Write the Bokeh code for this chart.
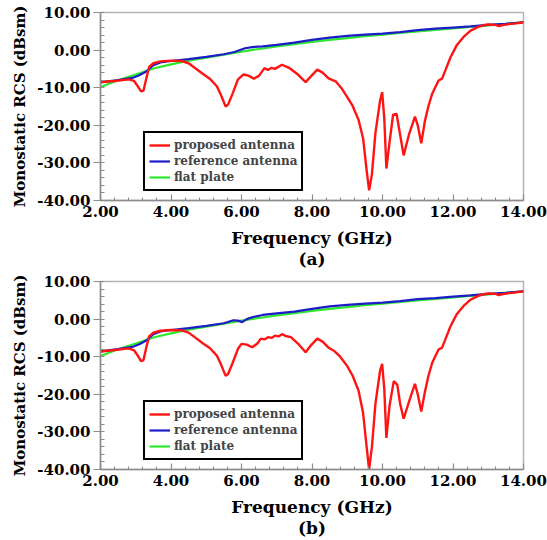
from bokeh.plotting import figure
from bokeh.layouts import column
from bokeh.models import (Legend, LegendItem, Title, SingleIntervalTicker,
                          NumeralTickFormatter, Range1d)
from bokeh.embed import file_html
from bokeh.resources import INLINE

# ---------------- data ----------------
freq_red_a = [2.0, 2.4, 2.8, 2.95, 3.05, 3.15, 3.22, 3.3, 3.38, 3.5, 3.7, 4.0, 4.3, 4.5, 4.7,
              4.9, 5.1, 5.3, 5.42, 5.55, 5.62, 5.75, 5.9, 6.05, 6.2, 6.35, 6.5, 6.65, 6.75,
              6.85, 6.95, 7.15, 7.35, 7.6, 7.82, 7.95, 8.15, 8.3, 8.47, 8.67, 8.85, 9.0, 9.15,
              9.32, 9.45, 9.55, 9.62, 9.7, 9.8, 9.93, 9.99, 10.05, 10.11, 10.2, 10.3, 10.4,
              10.5, 10.6, 10.75, 10.92, 11.0, 11.1, 11.2, 11.3, 11.41, 11.59, 11.69, 11.8,
              11.93, 12.1, 12.3, 12.5, 12.7, 12.85, 13.0, 13.2, 13.3, 13.45, 13.6, 13.8, 14.0]
rcs_red_a = [-8.5, -8.2, -7.8, -8.2, -9.5, -11.0, -10.8, -7.5, -4.5, -3.5, -3.0, -2.8, -2.9,
             -3.5, -4.9, -6.3, -7.6, -9.6, -12.0, -15.0, -14.5, -11.5, -7.8, -6.5, -6.8, -7.6,
             -6.8, -4.8, -5.3, -4.7, -5.0, -3.9, -4.7, -6.5, -8.5, -7.2, -5.2, -6.0, -7.5,
             -8.3, -10.3, -12.5, -14.8, -18.5, -23.5, -32.0, -37.3, -33.0, -22.0, -13.5,
             -11.2, -18.0, -31.5, -24.5, -17.2, -17.0, -22.5, -28.0, -22.5, -17.7, -20.0,
             -24.8, -19.0, -15.0, -11.6, -8.1, -7.6, -5.0, -1.9, 1.2, 3.5, 5.2, 6.1, 6.6,
             6.8, 6.7, 6.4, 6.7, 6.9, 7.1, 7.4]

freq_red_b = [2.0, 2.4, 2.8, 2.95, 3.05, 3.15, 3.22, 3.3, 3.38, 3.5, 3.7, 4.0, 4.3, 4.5, 4.7,
              4.9, 5.1, 5.3, 5.42, 5.55, 5.62, 5.75, 5.9, 6.0, 6.15, 6.3, 6.45, 6.55, 6.65,
              6.75, 6.85, 6.95, 7.05, 7.15, 7.25, 7.4, 7.6, 7.82, 7.95, 8.15, 8.3, 8.47, 8.62,
              8.8, 9.0, 9.15, 9.32, 9.45, 9.55, 9.62, 9.7, 9.8, 9.93, 9.99, 10.05, 10.11,
              10.2, 10.32, 10.42, 10.5, 10.6, 10.75, 10.92, 11.0, 11.1, 11.2, 11.3, 11.41,
              11.59, 11.69, 11.8, 11.93, 12.1, 12.3, 12.5, 12.7, 12.85, 13.0, 13.2, 13.3,
              13.45, 13.6, 13.8, 14.0]
rcs_red_b = [-8.6, -8.2, -7.8, -8.3, -9.6, -11.2, -10.9, -7.5, -4.6, -3.6, -3.1, -2.9, -3.0,
             -3.6, -5.0, -6.4, -7.7, -9.7, -12.1, -15.1, -14.6, -11.6, -7.9, -6.6, -6.8,
             -7.5, -6.5, -5.2, -5.4, -4.8, -5.0, -4.4, -4.6, -4.0, -4.5, -4.8, -6.5, -8.8,
             -7.2, -5.2, -6.0, -7.6, -8.4, -10.0, -12.5, -15.0, -19.0, -25.0, -34.0, -40.0,
             -34.0, -22.5, -13.8, -11.9, -18.5, -31.6, -23.0, -16.5, -17.5, -22.5, -26.5,
             -22.0, -17.2, -20.0, -24.6, -19.5, -15.2, -11.6, -8.1, -7.6, -5.0, -1.9, 1.2,
             3.5, 5.2, 6.1, 6.6, 6.8, 6.7, 6.4, 6.7, 6.9, 7.1, 7.4]

freq_blue_a = [2.0, 2.5, 2.9, 3.1, 3.3, 3.5, 3.7, 4.0, 4.5, 5.0, 5.5, 5.8, 6.1, 6.3, 6.6,
               7.0, 7.5, 8.0, 8.5, 9.0, 9.5, 10.0, 10.5, 11.0, 11.5, 12.0, 12.5, 13.0,
               13.5, 14.0]
rcs_blue_a = [-8.6, -8.0, -7.4, -6.7, -5.7, -4.0, -3.3, -2.9, -2.4, -1.8, -1.1, -0.5, 0.5,
              0.8, 1.0, 1.4, 2.0, 2.7, 3.3, 3.8, 4.1, 4.4, 4.8, 5.3, 5.7, 6.0, 6.3, 6.7,
              7.0, 7.4]

freq_blue_b = [2.0, 2.5, 2.9, 3.1, 3.3, 3.5, 3.7, 4.0, 4.5, 5.0, 5.5, 5.77, 5.9, 6.02,
               6.15, 6.3, 6.6, 7.0, 7.5, 8.0, 8.5, 9.0, 9.5, 10.0, 10.5, 11.0, 11.5, 12.0,
               12.5, 13.0, 13.5, 14.0]
rcs_blue_b = [-8.6, -8.0, -7.4, -6.7, -5.7, -4.0, -3.3, -2.9, -2.4, -1.8, -1.1, -0.3, -0.4,
              -0.8, 0.0, 0.5, 1.1, 1.5, 2.0, 2.7, 3.4, 3.8, 4.1, 4.4, 4.8, 5.3, 5.6, 6.0,
              6.3, 6.7, 7.0, 7.4]

freq_green = [2.0, 2.5, 3.0, 3.5, 4.0, 4.5, 5.0, 5.5, 6.0, 6.5, 7.0, 7.5, 8.0, 8.5, 9.0,
              9.5, 10.0, 10.5, 11.0, 11.5, 12.0, 12.5, 13.0, 13.5, 14.0]
rcs_green = [-9.8, -8.0, -6.5, -4.9, -3.8, -2.8, -2.0, -1.2, -0.4, 0.3, 1.0, 1.6, 2.2, 2.7,
             3.2, 3.7, 4.1, 4.6, 5.0, 5.4, 5.8, 6.2, 6.6, 7.0, 7.4]

series_labels = ["proposed antenna", "reference antenna", "flat plate"]
captions = ["(a)", "(b)"]

FONT = "DejaVu Serif"
RED, BLUE, GREEN = "#ff1414", "#1c1cc8", "#2ee82e"
AXIS_COL = "#8c8c8c"


def make_fig(red_x, red_y, blue_x, blue_y, caption, border_top, border_bottom):
    p = figure(frame_width=423, frame_height=188, output_backend="svg",
               toolbar_location=None, x_range=Range1d(2, 14), y_range=Range1d(-40, 10),
               min_border_left=100, min_border_right=24, min_border_top=border_top,
               min_border_bottom=border_bottom)
    p.xgrid.visible = False
    p.ygrid.visible = False
    p.outline_line_color = "#b4b4b4"
    p.outline_line_width = 1.5
    p.background_fill_color = "white"
    p.border_fill_color = "white"

    g = p.line(freq_green, rcs_green, line_color=GREEN, line_width=2.2)
    b = p.line(blue_x, blue_y, line_color=BLUE, line_width=2.2)
    r = p.line(red_x, red_y, line_color=RED, line_width=2.4)

    for ax, interval in ((p.xaxis[0], 2), (p.yaxis[0], 10)):
        ax.ticker = SingleIntervalTicker(interval=interval, num_minor_ticks=5)
        ax.formatter = NumeralTickFormatter(format="0.00")
        ax.axis_line_color = AXIS_COL
        ax.axis_line_width = 1.5
        ax.major_tick_line_color = AXIS_COL
        ax.minor_tick_line_color = AXIS_COL
        ax.major_tick_line_width = 1.2
        ax.minor_tick_line_width = 1
        ax.major_label_text_font = FONT
        ax.major_label_text_font_style = "bold"
        ax.major_label_text_font_size = "15px"
        ax.major_label_text_color = "black"
        ax.axis_label_text_font = FONT
        ax.axis_label_text_font_style = "bold"
        ax.axis_label_text_color = "black"

    p.xaxis.major_tick_in = 6
    p.xaxis.major_tick_out = 0
    p.xaxis.minor_tick_in = 3
    p.xaxis.minor_tick_out = 0
    p.xaxis.major_label_standoff = 5
    p.xaxis.axis_label = "Frequency (GHz)"
    p.xaxis.axis_label_text_font_size = "17px"
    p.xaxis.axis_label_standoff = 8

    p.yaxis.major_tick_in = 0
    p.yaxis.major_tick_out = 7
    p.yaxis.minor_tick_in = 4
    p.yaxis.minor_tick_out = 0
    p.yaxis.major_label_standoff = 3
    p.yaxis.axis_label = "Monostatic RCS (dBsm)"
    p.yaxis.axis_label_text_font_size = "15px"
    p.yaxis.axis_label_standoff = 5

    legend = Legend(items=[LegendItem(label=series_labels[0], renderers=[r]),
                           LegendItem(label=series_labels[1], renderers=[b]),
                           LegendItem(label=series_labels[2], renderers=[g])],
                    location=(43, 9), orientation="vertical")
    legend.label_text_font = FONT
    legend.label_text_font_style = "bold"
    legend.label_text_font_size = "12px"
    legend.label_height = 16
    legend.glyph_height = 16
    legend.glyph_width = 21
    legend.label_standoff = 4
    legend.padding = 4
    legend.spacing = 0
    legend.margin = 0
    legend.border_line_color = "black"
    legend.border_line_width = 2.5
    legend.border_line_alpha = 1
    legend.background_fill_color = "white"
    legend.background_fill_alpha = 1
    p.add_layout(legend, "center")

    t = Title(text=caption, align="center", text_font=FONT, text_font_style="bold",
              text_font_size="17px", text_color="black", standoff=-8, offset=0)
    p.add_layout(t, "below")
    return p


p1 = make_fig(freq_red_a, rcs_red_a, freq_blue_a, rcs_blue_a, captions[0], 12, 70)
p2 = make_fig(freq_red_b, rcs_red_b, freq_blue_b, rcs_blue_b, captions[1], 11, 71)
layout = column(p1, p2, spacing=0)

open("out.html", "w").write(file_html(layout, INLINE))
